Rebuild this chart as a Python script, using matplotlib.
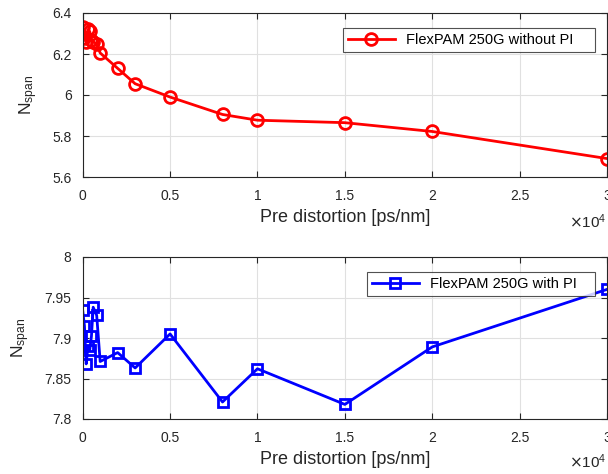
import matplotlib
matplotlib.use("Agg")
import matplotlib.pyplot as plt
from matplotlib.ticker import FuncFormatter

# ---- data ----
pre_distortion = [0, 100, 200, 300, 400, 500, 600, 800, 1000, 2000, 3000,
                  5000, 8000, 10000, 15000, 20000, 30000]
nspan_without_pi = [6.33, 6.28, 6.26, 6.32, 6.31, 6.27, 6.26, 6.25, 6.205,
                    6.13, 6.055, 5.99, 5.905, 5.877, 5.865, 5.822, 5.69]
nspan_with_pi = [7.934, 7.915, 7.868, 7.89, 7.885, 7.902, 7.938, 7.928, 7.871,
                 7.882, 7.863, 7.905, 7.821, 7.862, 7.818, 7.889, 7.96]
xticks = [0, 5000, 10000, 15000, 20000, 25000, 30000]
yticks_top = [5.6, 5.8, 6.0, 6.2, 6.4]
ytick_labels_top = ["5.6", "5.8", "6", "6.2", "6.4"]
yticks_bot = [7.8, 7.85, 7.9, 7.95, 8.0]
ytick_labels_bot = ["7.8", "7.85", "7.9", "7.95", "8"]
legend_top = "FlexPAM 250G without PI"
legend_bot = "FlexPAM 250G with PI"
xlabel = "Pre distortion [ps/nm]"

plt.rcParams['font.family'] = ['Liberation Sans', 'DejaVu Sans']
dark = '#262626'

W, H = 608, 474
fig = plt.figure(figsize=(W / 100, H / 100), dpi=100)

def make_axes(rect, y, color, marker, label, yticks, ylabels, ylim, legend_loc, pad_right):
    ax = fig.add_axes(rect)
    ax.plot(pre_distortion, y, color=color, lw=2, marker=marker, ms=8.5 if marker == 'o' else 7.5,
            mfc='none', mec=color, mew=2, label=label + pad_right)
    ax.set_xlim(0, 30000)
    ax.set_ylim(*ylim)
    ax.set_xticks(xticks)
    ax.xaxis.set_major_formatter(FuncFormatter(lambda v, p: ('%g' % (v / 1e4))))
    ax.set_yticks(yticks)
    ax.set_yticklabels(ylabels)
    ax.grid(True, color='#e0e0e0', lw=0.8)
    ax.set_axisbelow(True)
    ax.tick_params(direction='in', top=True, right=True, labelsize=10, colors=dark, length=4)
    ax.tick_params(axis='y', pad=8)
    ax.tick_params(axis='x', pad=9)
    for s in ax.spines.values():
        s.set_color(dark)
        s.set_linewidth(0.8)
    ax.set_xlabel(xlabel, fontsize=13, color=dark, labelpad=4)
    ax.set_ylabel(r'$\mathregular{N_{span}}$', fontsize=12.5, color=dark, labelpad=9)
    leg = ax.legend(loc='upper left', bbox_to_anchor=legend_loc, fontsize=10.5, frameon=True,
                    fancybox=False, edgecolor=dark, handlelength=3.2, borderpad=0.35,
                    borderaxespad=0)
    leg.get_frame().set_linewidth(0.8)
    return ax

ax1 = make_axes([82.7 / W, 1 - 177 / H, (607 - 82.7) / W, 164 / H],
                nspan_without_pi, 'red', 'o', legend_top, yticks_top, ytick_labels_top,
                (5.6, 6.4), ((343 - 82.7) / (607 - 82.7), (177 - 28) / 164), "    ")
ax2 = make_axes([82.7 / W, 1 - 419 / H, (607 - 82.7) / W, 162 / H],
                nspan_with_pi, 'blue', 's', legend_bot, yticks_bot, ytick_labels_bot,
                (7.8, 8.0), ((367 - 82.7) / (607 - 82.7), (419 - 272) / 162), "   ")

fig.text(606 / W, 1 - 222 / H, r'$\times\mathregular{10^{4}}$', fontsize=11, color=dark,
         ha='right', va='center')
fig.text(606 / W, 1 - 462 / H, r'$\times\mathregular{10^{4}}$', fontsize=11, color=dark,
         ha='right', va='center')

fig.savefig('out.png', dpi=100)
